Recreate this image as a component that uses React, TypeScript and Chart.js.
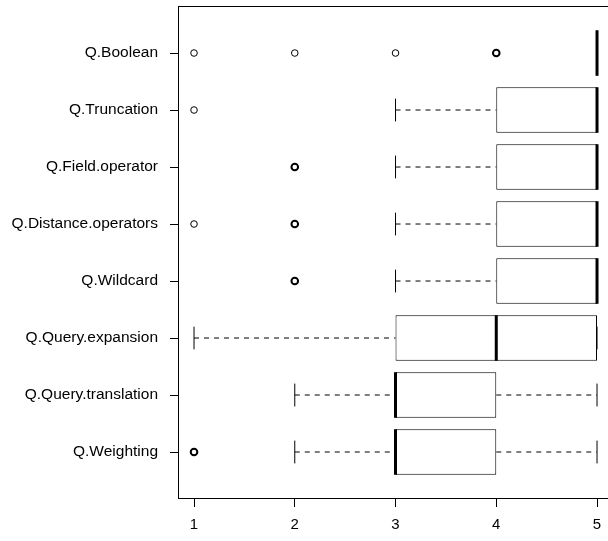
import React, { useEffect, useRef } from 'react';
import { Chart, registerables } from 'chart.js';

Chart.register(...registerables);

const categories = [
  'Q.Boolean',
  'Q.Truncation',
  'Q.Field.operator',
  'Q.Distance.operators',
  'Q.Wildcard',
  'Q.Query.expansion',
  'Q.Query.translation',
  'Q.Weighting',
];
const whiskerLow = [5, 3, 3, 3, 3, 1, 2, 2];
const q1 = [5, 4, 4, 4, 4, 3, 3, 3];
const median = [5, 5, 5, 5, 5, 4, 3, 3];
const q3 = [5, 5, 5, 5, 5, 5, 4, 4];
const whiskerHigh = [5, 5, 5, 5, 5, 5, 5, 5];
const outliers: number[][] = [[1, 2, 3, 4, 4], [1], [2, 2], [1, 2, 2], [2, 2], [], [], [1, 1]];
const xTicks = [1, 2, 3, 4, 5];

const FONT_FAMILY = '"Liberation Sans", Arial, Helvetica, sans-serif';

export default function App() {
  const ref = useRef<HTMLCanvasElement>(null);

  useEffect(() => {
    const boxPlugin = {
      id: 'boxplotExtras',
      afterDatasetsDraw(chart: any) {
        const { ctx, chartArea, scales } = chart;
        const xs = scales.x;
        const ys = scales.y;
        ctx.save();
        ctx.strokeStyle = '#000';
        const line = (x1: number, y1: number, x2: number, y2: number) => {
          ctx.beginPath();
          ctx.moveTo(x1, y1);
          ctx.lineTo(x2, y2);
          ctx.stroke();
        };
        categories.forEach((_, i) => {
          const pos = i + 1;
          const yc = ys.getPixelForValue(pos);
          const yt = ys.getPixelForValue(pos - 0.4);
          const yb = ys.getPixelForValue(pos + 0.4);
          const ct = ys.getPixelForValue(pos - 0.2);
          const cb = ys.getPixelForValue(pos + 0.2);
          const xl = xs.getPixelForValue(whiskerLow[i]);
          const xq1 = xs.getPixelForValue(q1[i]);
          const xm = xs.getPixelForValue(median[i]);
          const xq3 = xs.getPixelForValue(q3[i]);
          const xh = xs.getPixelForValue(whiskerHigh[i]);

          // whiskers
          ctx.lineWidth = 1;
          ctx.setLineDash([5, 5]);
          if (xq1 > xl) line(xl, yc, xq1, yc);
          if (xh > xq3) line(xq3, yc, xh, yc);
          ctx.setLineDash([]);
          // staples
          line(xl, ct, xl, cb);
          line(xh, ct, xh, cb);
          // median
          ctx.lineWidth = 3;
          line(xm, yt, xm, yb);

          // outliers
          const counts: Record<string, number> = {};
          outliers[i].forEach((v) => {
            counts[v] = (counts[v] || 0) + 1;
          });
          Object.keys(counts).forEach((k) => {
            const v = Number(k);
            ctx.lineWidth = counts[k] > 1 ? 2 : 1;
            ctx.beginPath();
            ctx.arc(xs.getPixelForValue(v), yc, 3.3, 0, Math.PI * 2);
            ctx.stroke();
          });
        });
        // frame
        ctx.lineWidth = 1;
        ctx.strokeRect(chartArea.left + 0.5, chartArea.top + 0.5, chartArea.right - chartArea.left + 20, chartArea.bottom - chartArea.top);
        ctx.restore();
      },
    };

    const chart = new Chart(ref.current!, {
      type: 'bar',
      data: {
        datasets: [
          {
            data: categories.map((_, i) => ({ x: [q1[i], q3[i]], y: i + 1 })) as any,
            backgroundColor: '#ffffff',
            borderColor: '#000000',
            borderWidth: 1,
            borderSkipped: false,
            barPercentage: 0.8,
            categoryPercentage: 1,
          },
        ],
      },
      options: {
        indexAxis: 'y',
        animation: false,
        responsive: false,
        events: [],
        layout: { padding: { top: 6, left: 0, right: 0, bottom: 0 } },
        plugins: { legend: { display: false }, tooltip: { enabled: false } },
        scales: {
          x: {
            type: 'linear',
            min: 0.841,
            max: 5.109,
            offset: false,
            afterBuildTicks: (s: any) => {
              s.ticks = xTicks.map((v) => ({ value: v }));
            },
            afterFit: (s: any) => {
              s.height = 43;
              s.paddingLeft = 0;
              s.paddingRight = 0;
            },
            grid: { drawOnChartArea: false, drawTicks: true, tickLength: 9, color: '#000', offset: false },
            border: { display: false },
            ticks: {
              color: '#000',
              padding: 9,
              maxRotation: 0,
              autoSkip: false,
              font: { family: FONT_FAMILY, size: 15 },
            },
          },
          y: {
            type: 'linear',
            reverse: true,
            min: 0.175,
            max: 8.807,
            offset: false,
            afterBuildTicks: (s: any) => {
              s.ticks = categories.map((_, i) => ({ value: i + 1 }));
            },
            afterFit: (s: any) => {
              s.width = 178;
              s.paddingTop = 0;
              s.paddingBottom = 0;
            },
            grid: { drawOnChartArea: false, drawTicks: true, tickLength: 8, color: '#000', offset: false },
            border: { display: false },
            ticks: {
              color: '#000',
              padding: 12,
              autoSkip: false,
              callback: (v: any) => categories[Math.round(Number(v)) - 1],
              font: { family: FONT_FAMILY, size: 15.5 },
            },
          },
        },
      },
      plugins: [boxPlugin],
    } as any);

    return () => chart.destroy();
  }, []);

  return (
    <div style={{ position: 'absolute', left: 0, top: 0, width: 608, height: 541, background: '#fff' }}>
      <canvas ref={ref} width={608} height={541} />
    </div>
  );
}
